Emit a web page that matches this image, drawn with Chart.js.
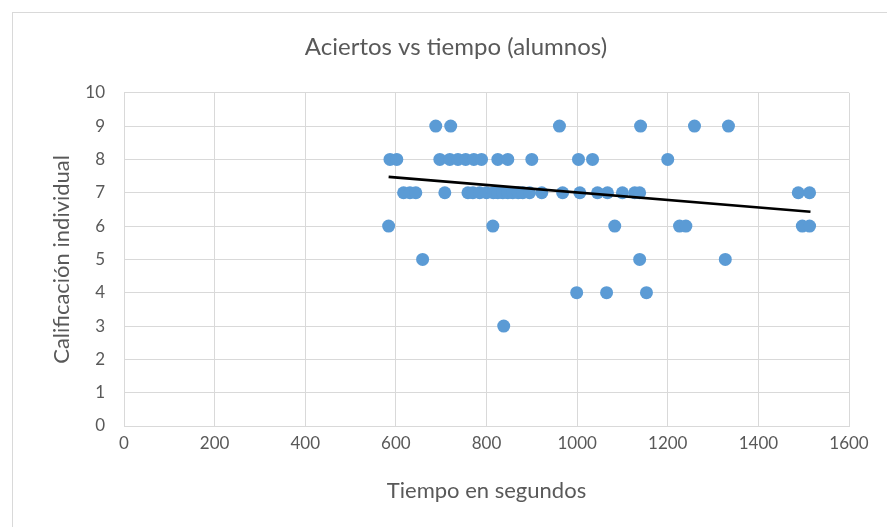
<!DOCTYPE html>
<html>
<head>
<meta charset="utf-8">
<script src="https://cdn.jsdelivr.net/npm/chart.js@4/dist/chart.umd.min.js"></script>
<style>
    body { margin: 0; background: #fff; overflow: hidden; width: 887px; height: 527px; position: relative; }
    #frame { position: absolute; left: 12px; top: 12px; width: 1000px; height: 1000px; border: 1px solid #d9d9d9; }
    #chart { position: absolute; left: 0; top: 0; }
</style>
</head>
<body>
<div id="frame"></div>
<canvas id="chart" width="912" height="527"></canvas>
<script>
const calif9 = [688, 721, 961, 1140, 1259, 1334]
const calif8 = [587, 602, 697, 719, 737, 754, 772, 789, 825, 847, 900, 1003, 1034, 1200]
const calif7 = [617, 631, 644, 708, 759, 770, 785, 800, 815, 825, 836, 847, 858, 870, 880, 895, 922, 968, 1006, 1045, 1067, 1100, 1127, 1138, 1488, 1513]
const calif6 = [584, 814, 1083, 1226, 1240, 1497, 1513]
const calif5 = [659, 1138, 1327]
const calif4 = [999, 1065, 1153]
const calif3 = [838]

const trendX = [584, 1515]
const trendY = [7.48, 6.43]

const xTicks = [0, 200, 400, 600, 800, 1000, 1200, 1400, 1600]
const yTicks = [0, 1, 2, 3, 4, 5, 6, 7, 8, 9, 10]

const toPoints = (times, grade) => times.map(t => ({x: t, y: grade}))

const puntos = [
    ...toPoints(calif9, 9),
    ...toPoints(calif8, 8),
    ...toPoints(calif7, 7),
    ...toPoints(calif6, 6),
    ...toPoints(calif5, 5),
    ...toPoints(calif4, 4),
    ...toPoints(calif3, 3)
]

const fontFamily = "Lato, 'Open Sans', sans-serif"
const grey = '#595959'
const gridColor = '#d9d9d9'

new Chart(document.getElementById('chart').getContext('2d'), {
    type: 'scatter',
    data: {
        datasets: [{
            label: 'Tendencia',
            type: 'line',
            data: trendX.map((x, i) => ({x: x, y: trendY[i]})),
            borderColor: '#000',
            borderWidth: 2.75,
            pointRadius: 0,
            fill: false,
            order: 0
        }, {
            label: 'Alumnos',
            data: puntos,
            backgroundColor: '#5b9bd5',
            borderColor: '#5b9bd5',
            pointRadius: 6.5,
            borderWidth: 0,
            order: 1
        }]
    },
    options: {
        responsive: false,
        animation: false,
        // left padding equals right so the title centres like the original
        layout: { padding: { left: 63, right: 63, top: 0, bottom: 23 } },
        plugins: {
            legend: { display: false },
            tooltip: { enabled: false },
            title: {
                display: true,
                text: 'Aciertos vs tiempo (alumnos)',
                color: grey,
                font: { family: fontFamily, size: 24, weight: 'normal' },
                padding: { top: 33, bottom: 31 }
            }
        },
        scales: {
            x: {
                type: 'linear',
                min: xTicks[0],
                max: xTicks[xTicks.length - 1],
                afterFit: scale => { scale.height = 78 },
                afterBuildTicks: scale => { scale.ticks = xTicks.map(v => ({value: v})) },
                grid: { color: gridColor, lineWidth: 1, drawTicks: false },
                border: { color: gridColor },
                ticks: { color: grey, padding: 7, font: { family: fontFamily, size: 17 }, callback: v => String(v) },
                title: {
                    display: true,
                    text: 'Tiempo en segundos',
                    color: grey,
                    padding: 0,
                    font: { family: fontFamily, size: 22 }
                }
            },
            y: {
                min: yTicks[0],
                max: yTicks[yTicks.length - 1],
                afterFit: scale => { scale.width = 61 },
                afterBuildTicks: scale => { scale.ticks = yTicks.map(v => ({value: v})) },
                grid: { color: gridColor, lineWidth: 1, drawTicks: false },
                border: { color: gridColor },
                ticks: { color: grey, padding: 19, font: { family: fontFamily, size: 17 }, callback: v => String(v) },
                title: {
                    display: true,
                    text: 'Calificación individual',
                    color: grey,
                    padding: { top: -14, bottom: 0 },
                    font: { family: fontFamily, size: 22 }
                }
            }
        }
    }
})
</script>
</body>
</html>
